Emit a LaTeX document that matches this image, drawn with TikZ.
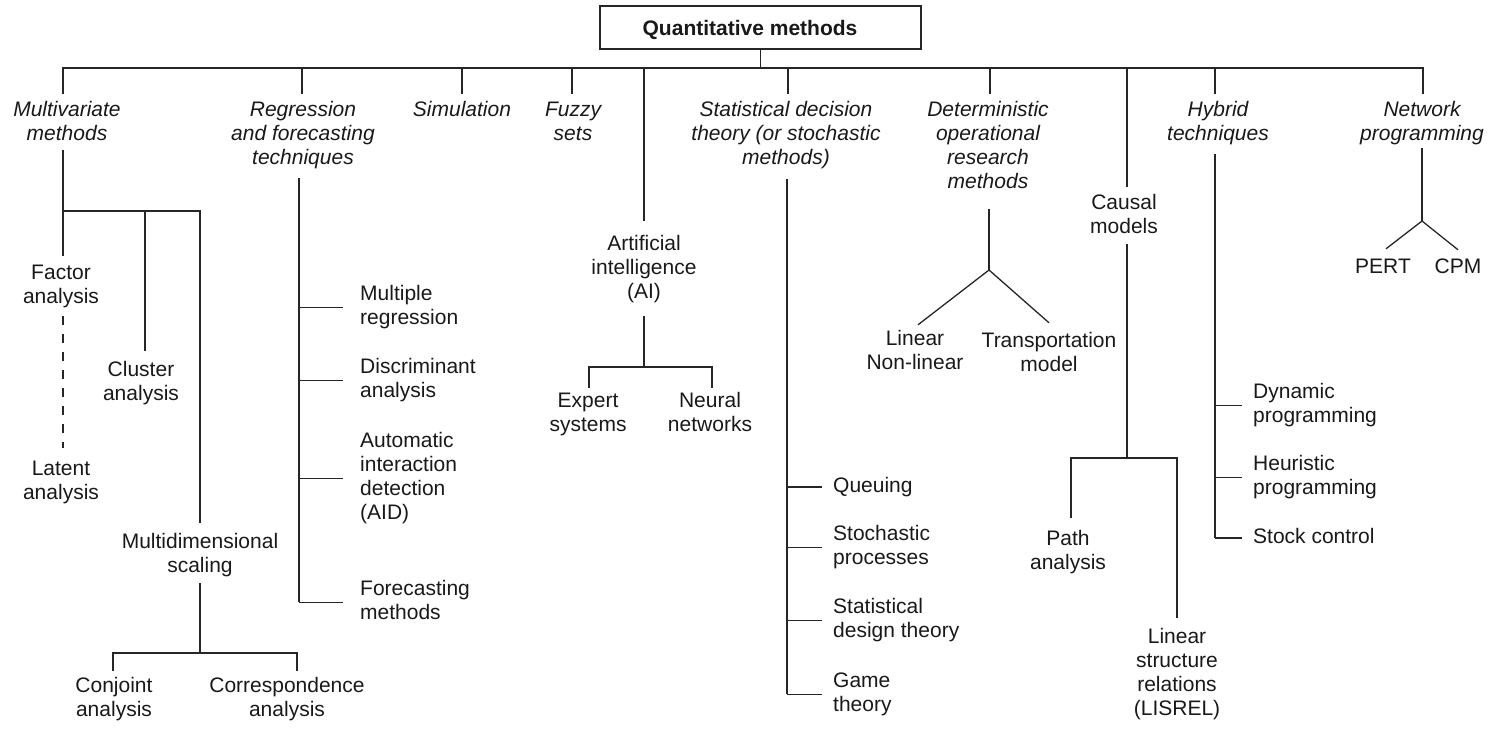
\documentclass[tikz,border=0pt]{standalone}
\usepackage{fontspec}
\setmainfont{Liberation Sans}
\newcommand\mlc[1]{\begin{tabular}[t]{@{}c@{}}#1\end{tabular}}
\newcommand\mll[1]{\begin{tabular}[t]{@{}l@{}}#1\end{tabular}}
\tikzset{
  ln/.style={line width=1.3pt, draw=black!85},
  cat/.style={inner sep=0pt, anchor=base, text=black!90, font=\fontsize{21}{24.3}\selectfont\itshape},
  itm/.style={inner sep=0pt, anchor=base, text=black!90, font=\fontsize{21}{24.3}\selectfont},
  itml/.style={itm, anchor=base west},
}
\begin{document}
\begin{tikzpicture}[x=1pt,y=-1pt]
\useasboundingbox (0,0) rectangle (1499,742);
% title
\node[ln, draw, minimum width=321pt, minimum height=43pt, inner sep=0pt, text height=15pt, text depth=0pt, text=black!90, font=\fontsize{21}{24.3}\selectfont\bfseries] (qm) at (760.5,27.5) {\hspace*{-21pt}Quantitative methods};
% categories
\node[cat] (mv) at (67,116) {\mlc{Multivariate\\methods}};
\node[cat] (rg) at (303,116) {\mlc{Regression\\and forecasting\\techniques}};
\node[cat] (sim) at (462,116) {\mlc{Simulation}};
\node[cat] (fz) at (573,116) {\mlc{Fuzzy\\sets}};
\node[cat] (sd) at (786,116) {\mlc{Statistical decision\\theory (or stochastic\\methods)}};
\node[cat] (dt) at (988,116) {\mlc{Deterministic\\operational\\research\\methods}};
\node[cat] (hy) at (1218,116) {\mlc{Hybrid\\techniques}};
\node[cat] (nw) at (1422,116) {\mlc{Network\\programming}};
% bus
\coordinate (bL) at (63,68);
\coordinate (bR) at (1423,68);
\coordinate (b2) at (302,68);
\coordinate (b3) at (462,68);
\coordinate (b4) at (572,68);
\coordinate (b5) at (644,68);
\coordinate (b6) at (788,68);
\coordinate (b7) at (990,68);
\coordinate (b8) at (1127,68);
\coordinate (b9) at (1215,68);
\draw[ln] (qm.south) -- (qm.south |- bL);
\draw[ln, shorten <=5pt, shorten >=5pt] (bL |- mv.north) -- (bL) -- (bR) -- (bR |- nw.north);
\foreach \b/\n in {b2/rg, b3/sim, b4/fz, b6/sd, b7/dt, b9/hy}
  \draw[ln, shorten >=5pt] (\b) -- (\b |- \n.north);
% ---- Multivariate subtree
\node[itm] (fa) at (61,279) {\mlc{Factor\\analysis}};
\node[itm] (la) at (61,475) {\mlc{Latent\\analysis}};
\node[itm] (cl) at (141,376) {\mlc{Cluster\\analysis}};
\node[itm] (md) at (200,548) {\mlc{Multidimensional\\scaling}};
\node[itm] (cj) at (114,692) {\mlc{Conjoint\\analysis}};
\node[itm] (co) at (287,692) {\mlc{Correspondence\\analysis}};
\coordinate (mvj) at (63,211);
\coordinate (clj) at (145,211);
\coordinate (mvr) at (200,211);
\coordinate (mdj) at (200,653);
\coordinate (cjt) at (113,653);
\coordinate (cot) at (297,653);
\draw[ln] ([yshift=-2pt]mv.south -| mvj) -- (mvj) -- (mvr) -- ([yshift=8pt]md.north -| mvr);
\draw[ln] (mvj) -- ([yshift=6pt]fa.north -| mvj);
\draw[ln] (clj) -- ([yshift=8pt]cl.north -| clj);
\draw[ln, dash pattern=on 9pt off 9pt] ([yshift=-5pt]fa.south -| mvj) -- ([yshift=10pt]la.north -| mvj);
\draw[ln] ([yshift=-3pt]md.south) -- (mdj);
\draw[ln, shorten <=4pt, shorten >=4pt] (cjt |- cj.north) -- (cjt) -- (cot) -- (cot |- co.north);
% ---- Regression subtree
\node[itml] (mr) at (360,300) {\mll{Multiple\\regression}};
\node[itml] (da) at (360,373) {\mll{Discriminant\\analysis}};
\node[itml] (aid) at (360,447) {\mll{Automatic\\interaction\\detection\\(AID)}};
\node[itml] (fm) at (360,595) {\mll{Forecasting\\methods}};
\coordinate (rgb) at (299,601);
\draw[ln] ([yshift=-6pt]rg.south -| rgb) -- (rgb |- fm.west);
\foreach \n in {mr, da, aid, fm}
  \draw[ln] (\n.west -| rgb) -- ([xshift=-17pt]\n.west);
% ---- AI subtree
\node[itm] (ai) at (644,250) {\mlc{Artificial\\intelligence\\(AI)}};
\node[itm] (ex) at (588,407) {\mlc{Expert\\systems}};
\node[itm] (nn) at (710,407) {\mlc{Neural\\networks}};
\coordinate (aij) at (644,367);
\coordinate (ext) at (589,367);
\coordinate (nnt) at (712,367);
\draw[ln] (b5) -- ([yshift=12pt]ai.north);
\draw[ln] ([yshift=-10pt]ai.south) -- (aij);
\draw[ln, shorten <=2pt, shorten >=2pt] (ext |- ex.north) -- (ext) -- (nnt) -- (nnt |- nn.north);
% ---- Statistical decision subtree
\node[itml] (qu) at (833,492) {\mll{Queuing}};
\node[itml] (sp) at (833,540) {\mll{Stochastic\\processes}};
\node[itml] (sdt) at (833,613) {\mll{Statistical\\design theory}};
\node[itml] (gt) at (833,687) {\mll{Game\\theory}};
\coordinate (sdb) at (787,697);
\draw[ln] ([yshift=-7pt]sd.south -| sdb) -- (sdb |- gt.west);
\foreach \n in {qu, sp, sdt, gt}
  \draw[ln] (\n.west -| sdb) -- ([xshift=-11pt]\n.west);
% ---- Deterministic subtree
\node[itm] (lin) at (915,345) {\mlc{Linear\\Non-linear}};
\node[itm] (tr) at (1049,347) {\mlc{Transportation\\model}};
\coordinate (dtj) at (989,270);
\draw[ln] ([yshift=-13pt]dt.south -| dtj) -- (dtj);
\draw[ln] (dtj) -- ([xshift=3pt,yshift=3pt]lin.north);
\draw[ln] (dtj) -- ([yshift=7pt]tr.north);
% ---- Causal subtree
\node[itm] (ca) at (1124,209) {\mlc{Causal\\models}};
\node[itm] (pa) at (1068,545) {\mlc{Path\\analysis}};
\node[itm] (ls) at (1177,643) {\mlc{Linear\\structure\\relations\\(LISREL)}};
\coordinate (caj) at (1127,458);
\coordinate (pat) at (1071,458);
\coordinate (lst) at (1177,458);
\draw[ln, shorten >=5pt] (b8) -- (b8 |- ca.north);
\draw[ln] ([yshift=-3pt]ca.south -| caj) -- (caj);
\draw[ln] ([yshift=10pt]pa.north -| pat) -- (pat) -- (lst) -- ([yshift=8pt]ls.north -| lst);
% ---- Hybrid subtree
\node[itml] (dp) at (1253,398) {\mll{Dynamic\\programming}};
\node[itml] (hp) at (1253,470) {\mll{Heuristic\\programming}};
\node[itml] (sc) at (1253,543) {\mll{Stock control}};
\coordinate (hyb) at (1215,538);
\draw[ln] ([yshift=-6pt]hy.south -| hyb) -- (hyb |- sc.west);
\foreach \n in {dp, hp, sc}
  \draw[ln] (\n.west -| hyb) -- ([xshift=-11pt]\n.west);
% ---- Network subtree
\node[itm] (pe) at (1383,273) {\mlc{PERT}};
\node[itm] (cp) at (1458,273) {\mlc{CPM}};
\coordinate (nwj) at (1422,221);
\draw[ln] (nw.south -| nwj) -- (nwj);
\draw[ln] (nwj) -- ([xshift=3pt,yshift=7pt]pe.north);
\draw[ln] (nwj) -- ([yshift=6pt]cp.north);
\end{tikzpicture}
\end{document}
